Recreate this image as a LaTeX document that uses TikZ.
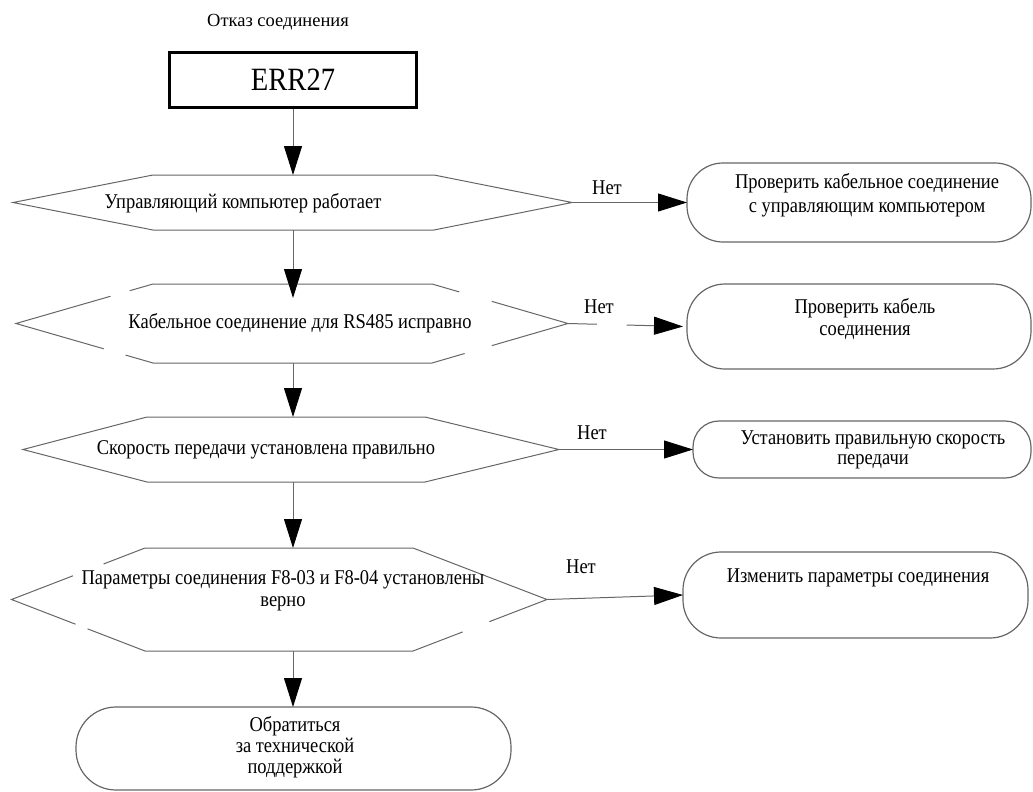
\documentclass[tikz,border=0pt]{standalone}
\usepackage{fontspec}
\setmainfont{Liberation Serif}
\newfontfamily\cond{Liberation Serif}[FakeStretch=0.88]
\usetikzlibrary{arrows.meta,calc}
\begin{document}
\begin{tikzpicture}[x=1pt,y=-1pt,
  ln/.style={draw=black!60, line width=1pt},
  arr/.style={ln, -{Triangle[length=29pt,width=18pt,color=black]}},
  txt/.style={font=\cond\fontsize{21}{22}\selectfont, align=center, inner sep=0pt},
  ttl/.style={font=\fontsize{18.5}{22}\selectfont, inner sep=0pt},
  hexanchor/.style={inner sep=0pt, outer sep=0pt, draw=none},
  rbox/.style={draw=black!60, line width=1.2pt, inner sep=0pt, outer sep=0pt},
  errbox/.style={draw=black, line width=2.2pt, inner sep=0pt, minimum width=247pt, minimum height=55pt, font=\cond\fontsize{32.5}{32}\selectfont}
]
\useasboundingbox (0,0) rectangle (1033,792);

% title and start box
\node[ttl] (title) at (278,22) {Отказ соединения};
\node[errbox] (e) at (293,80) {ERR27};

% decision hexagons (anchors)
\node[hexanchor, minimum width=559pt, minimum height=55pt] (d1) at (292.5,202.5) {};
\node[hexanchor, minimum width=552pt, minimum height=79pt] (d2) at (292,323.5) {};
\node[hexanchor, minimum width=536pt, minimum height=65pt] (d3) at (291,449.5) {};
\node[hexanchor, minimum width=535.5pt, minimum height=103pt] (d4) at (279.25,599.5) {};

\draw[ln] (d1.west) -- ([xshift=140pt]d1.north west) -- ([xshift=-138pt]d1.north east) -- (d1.east)
  -- ([xshift=-138pt]d1.south east) -- ([xshift=140pt]d1.south west) -- cycle;

\coordinate (d2nw) at ([xshift=137pt]d2.north west);
\coordinate (d2ne) at ([xshift=-136pt]d2.north east);
\coordinate (d2se) at ([xshift=-136pt]d2.south east);
\coordinate (d2sw) at ([xshift=137pt]d2.south west);
\draw[ln] (d2nw) -- (d2ne) -- ($(d2ne)!0.20!(d2.east)$);
\draw[ln] ($(d2ne)!0.44!(d2.east)$) -- (d2.east) -- ($(d2.east)!0.56!(d2se)$);
\draw[ln] ($(d2.east)!0.76!(d2se)$) -- (d2se) -- (d2sw) -- ($(d2sw)!0.20!(d2.west)$);
\draw[ln] ($(d2sw)!0.36!(d2.west)$) -- (d2.west) -- ($(d2.west)!0.69!(d2nw)$);
\draw[ln] ($(d2.west)!0.83!(d2nw)$) -- (d2nw);

\draw[ln] (d3.west) -- ([xshift=124pt]d3.north west) -- ([xshift=-134pt]d3.north east) -- (d3.east)
  -- ([xshift=-134pt]d3.south east) -- ([xshift=124pt]d3.south west) -- cycle;

\coordinate (d4nw) at ([xshift=133.5pt]d4.north west);
\coordinate (d4ne) at ([xshift=-134pt]d4.north east);
\coordinate (d4se) at ([xshift=-134pt]d4.south east);
\coordinate (d4sw) at ([xshift=133.5pt]d4.south west);
\draw[ln] (d4nw) -- (d4ne) -- (d4.east) -- ($(d4.east)!0.43!(d4se)$);
\draw[ln] ($(d4.east)!0.63!(d4se)$) -- (d4se) -- (d4sw) -- ($(d4sw)!0.43!(d4.west)$);
\draw[ln] ($(d4sw)!0.52!(d4.west)$) -- (d4.west) -- ($(d4.west)!0.46!(d4nw)$);
\draw[ln] ($(d4.west)!0.69!(d4nw)$) -- (d4nw);

\node[txt] (d1t) at (243,203) {Управляющий компьютер работает};
\node[txt] (d2t) at (300,323) {Кабельное соединение для RS485 исправно};
\node[txt] (d3t) at (266,450) {Скорость передачи установлена правильно};
\node[txt] (d4t) at (283,591) {Параметры соединения F8-03 и F8-04 установлены\\верно};

% action boxes
\node[rbox, rounded corners=36pt, minimum width=344pt, minimum height=79pt] (b1) at (859,202.5) {};
\node[rbox, rounded corners=38pt, minimum width=344pt, minimum height=85pt] (b2) at (859,326.5) {};
\node[rbox, rounded corners=26pt, minimum width=338pt, minimum height=57pt] (b3) at (862,449.5) {};
\node[rbox, rounded corners=38pt, minimum width=345pt, minimum height=86pt] (b4) at (855.5,595) {};
\node[rbox, rounded corners=40pt, minimum width=435pt, minimum height=83pt] (f) at (293.5,748.5) {};

\node[txt, font=\cond\fontsize{21}{24}\selectfont] (b1t) at (867,195) {Проверить кабельное соединение\\с управляющим компьютером};
\node[txt] (b2t) at (865,319) {Проверить кабель\\соединения};
\node[txt, font=\cond\fontsize{21}{20}\selectfont] (b3t) at (873,450) {Установить правильную скорость\\передачи};
\node[txt] (b4t) at (858,578) {Изменить параметры соединения};
\node[txt, font=\cond\fontsize{21}{21}\selectfont] (ft) at (295,747) {Обратиться\\за технической\\поддержкой};

% "Нет" labels
\node[txt] (n1) at (607,188) {Нет};
\node[txt] (n2) at (599,307) {Нет};
\node[txt] (n3) at (592,433) {Нет};
\node[txt] (n4) at (581,567) {Нет};

% vertical connectors
\draw[arr] (e.south) -- (e.south |- d1.north);
\draw[arr, shorten >=-14pt] (e.south |- d1.south) -- (e.south |- d2.north);
\draw[arr] (e.south |- d2.south) -- (e.south |- d3.north);
\draw[arr] (e.south |- d3.south) -- (e.south |- d4.north);
\draw[arr] (e.south |- d4.south) -- (e.south |- f.north);

% horizontal connectors
\draw[arr] (d1.east) -- (b1.west);
\draw[ln] (d2.east) -- ($(d2.east)!0.25!([xshift=-4pt]b2.west)$);
\draw[arr] ($(d2.east)!0.51!([xshift=-4pt]b2.west)$) -- ([xshift=-4pt]b2.west);
\draw[arr] (d3.east) -- (b3.west);
\draw[arr] (d4.east) -- (b4.west);
\end{tikzpicture}
\end{document}
